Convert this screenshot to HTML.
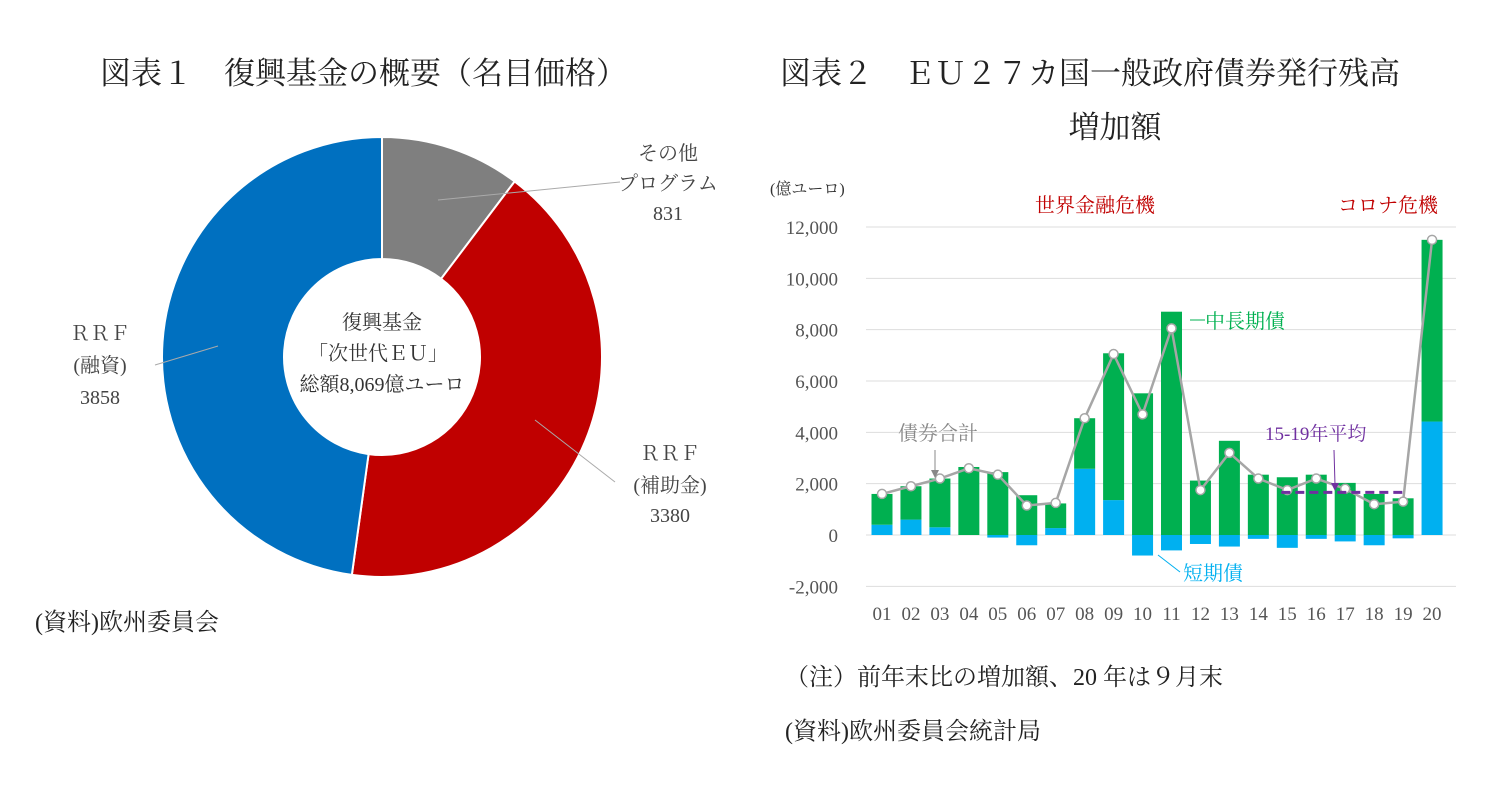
<!DOCTYPE html>
<html><head><meta charset="utf-8"><style>
html,body{margin:0;padding:0;background:#fff;}
svg{display:block;font-family:"Liberation Serif","Noto Serif CJK SC",serif;}
</style></head><body>
<svg width="1493" height="789" viewBox="0 0 1493 789" xmlns="http://www.w3.org/2000/svg">
<text x="100" y="84" font-size="31" fill="#222">図表１　復興基金の概要（名目価格）</text>
<text x="780" y="84" font-size="31" fill="#222">図表２　ＥＵ２７カ国一般政府債券発行残高</text>
<text x="1115" y="138" font-size="31" fill="#222" text-anchor="middle">増加額</text>
<g id="donut"></g>
<g fill="#333" font-size="20" text-anchor="middle">
<text x="382" y="329">復興基金</text><text x="378" y="360">「次世代ＥＵ」</text><text x="382" y="391">総額8,069億ユーロ</text></g>
<g fill="#444" font-size="20" text-anchor="middle">
<text x="668" y="160">その他</text><text x="668" y="190">プログラム</text><text x="668" y="220">831</text>
<text x="100" y="340">ＲＲＦ</text><text x="100" y="372">(融資)</text><text x="100" y="404">3858</text>
<text x="670" y="460">ＲＲＦ</text><text x="670" y="492">(補助金)</text><text x="670" y="522">3380</text></g>
<g stroke="#aaa" stroke-width="1">
<line x1="438" y1="200" x2="620" y2="182"/><line x1="218" y1="346" x2="155" y2="365"/><line x1="535" y1="420" x2="615" y2="482"/></g>
<text x="35" y="630" font-size="24" fill="#222">(資料)欧州委員会</text>
<text x="785" y="685" font-size="24" fill="#222">（注）前年末比の増加額、20 年は９月末</text>
<text x="785" y="739" font-size="24" fill="#222">(資料)欧州委員会統計局</text>
<g id="bars"></g>
</svg>
<script>
const sliceNames=["その他プログラム","RRF補助金","RRF融資"];
const sliceValues=[831,3380,3858];
const sliceColors=["#7f7f7f","#c00000","#0070c0"];
const years=["01","02","03","04","05","06","07","08","09","10","11","12","13","14","15","16","17","18","19","20"];
const shortTerm=[400,600,300,0,-100,-400,270,2580,1360,-800,-600,-350,-450,-150,-500,-150,-250,-400,-130,4420];
const longTerm=[1200,1300,1900,2650,2450,1550,960,1970,5720,5520,8700,2120,3670,2350,2250,2350,2030,1600,1430,7080];
const totals=[1600,1900,2200,2600,2350,1150,1250,4550,7050,4700,8050,1750,3200,2200,1750,2200,1800,1200,1300,11500];
const avgValue=1660;
const yTicks=[-2000,0,2000,4000,6000,8000,10000,12000];
const yTickLabels=["-2,000","0","2,000","4,000","6,000","8,000","10,000","12,000"];
const NS="http://www.w3.org/2000/svg";
function mk(p,t,a){const e=document.createElementNS(NS,t);for(const k in a)e.setAttribute(k,a[k]);p.appendChild(e);return e;}
// donut
const dg=document.getElementById('donut');
const cx=382,cy=357,R=220,r=98;const tot=sliceValues.reduce((a,b)=>a+b,0);
let ang=0;
sliceValues.forEach((v,i)=>{const a0=ang,a1=ang+v/tot*2*Math.PI;ang=a1;
const pt=(rad,a)=>[cx+rad*Math.sin(a),cy-rad*Math.cos(a)];
const [x0,y0]=pt(R,a0),[x1,y1]=pt(R,a1),[x2,y2]=pt(r,a1),[x3,y3]=pt(r,a0);const lg=(a1-a0)>Math.PI?1:0;
const p=mk(dg,'path',{d:`M${x0},${y0}A${R},${R} 0 ${lg} 1 ${x1},${y1}L${x2},${y2}A${r},${r} 0 ${lg} 0 ${x3},${y3}Z`,fill:sliceColors[i],stroke:'#fff','stroke-width':2});


});
// bars
const bg=document.getElementById('bars');
const y=v=>535-v*308/12000;const x0=882,step=28.95;const xc=i=>x0+i*step;const bw=21;
yTicks.forEach((t,i)=>{const l=mk(bg,'line',{x1:866,x2:1456,y1:y(t),y2:y(t),stroke:'#ddd','stroke-width':1});


const tx=mk(bg,'text',{x:838,y:y(t)+7,'font-size':19,'text-anchor':'end',fill:'#555'});tx.textContent=yTickLabels[i];

});
years.forEach((yr,i)=>{const s=shortTerm[i],g=longTerm[i];const base=Math.max(s,0);
const b1=mk(bg,'rect',{x:xc(i)-bw/2,y:y(Math.max(s,0)),width:bw,height:Math.abs(y(s)-y(0)),fill:'#00b0f0'});


const b2=mk(bg,'rect',{x:xc(i)-bw/2,y:y(base+g),width:bw,height:y(base)-y(base+g),fill:'#00b050'});


const tx=mk(bg,'text',{x:xc(i),y:620,'font-size':19,'text-anchor':'middle',fill:'#555'});tx.textContent=yr;

});
const pl=mk(bg,'polyline',{points:totals.map((v,i)=>xc(i)+','+y(v)).join(' '),fill:'none',stroke:'#a6a6a6','stroke-width':2.5});


totals.forEach((v,i)=>{const c=mk(bg,'circle',{cx:xc(i),cy:y(v),r:4.5,fill:'#fff',stroke:'#a6a6a6','stroke-width':1.5});

});
const av=mk(bg,'line',{x1:xc(14)-6,x2:xc(18)+4,y1:y(avgValue),y2:y(avgValue),stroke:'#7030a0','stroke-width':3,'stroke-dasharray':'9,5'});


</script>
<svg width="0" height="0" style="position:absolute"></svg>
<div style="position:absolute;left:0;top:0;width:1493px;height:789px;pointer-events:none">
<svg width="1493" height="789" style="font-family:'Liberation Serif','Noto Serif CJK SC',serif">
<text x="770" y="194" font-size="16" fill="#333">(億ユーロ)</text>
<text x="1095" y="212" font-size="20" fill="#c00000" text-anchor="middle">世界金融危機</text>
<text x="1388" y="212" font-size="20" fill="#c00000" text-anchor="middle">コロナ危機</text>
<text x="898" y="440" font-size="20" fill="#888">債券合計</text>
<line x1="935" y1="450" x2="935" y2="472" stroke="#888"/><path d="M931,470 L935,478 L939,470Z" fill="#888"/>
<line x1="1190" y1="320" x2="1205" y2="320" stroke="#00b050"/>
<text x="1205" y="328" font-size="20" fill="#00b050">中長期債</text>
<line x1="1158" y1="555" x2="1180" y2="572" stroke="#00b0f0"/>
<text x="1183" y="580" font-size="20" fill="#00b0f0">短期債</text>
<text x="1265" y="440" font-size="19" fill="#7030a0">15-19年平均</text>
<line x1="1334" y1="450" x2="1335" y2="485" stroke="#7030a0"/><path d="M1331,483 L1335,491 L1339,483Z" fill="#7030a0"/>
</svg></div>
</body></html>
